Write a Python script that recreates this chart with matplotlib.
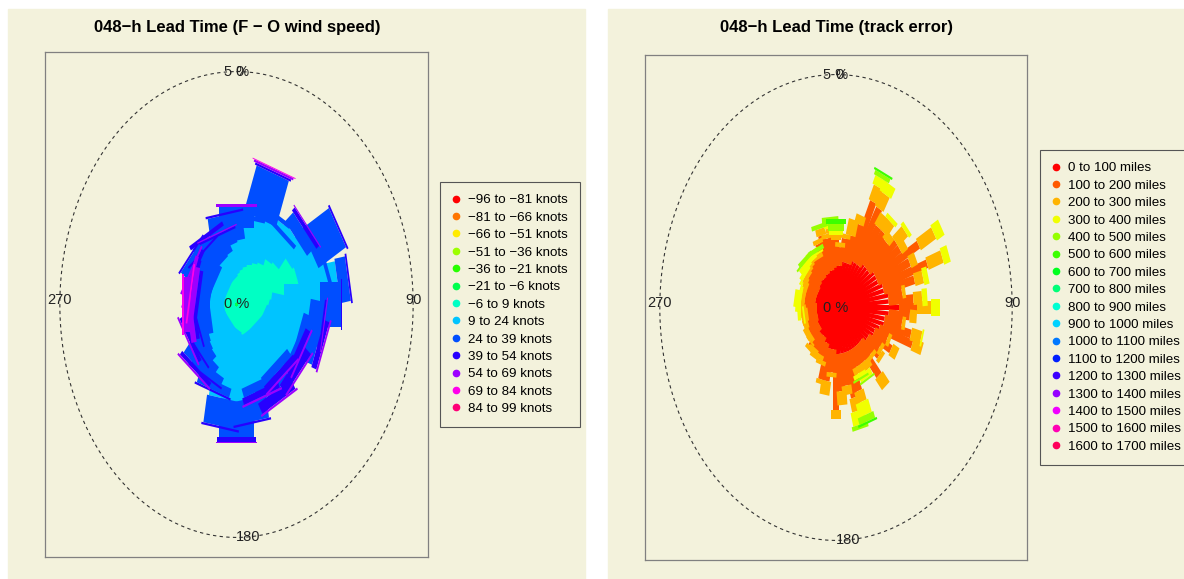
import colorsys
import numpy as np
import matplotlib
matplotlib.use('Agg')
import matplotlib.pyplot as plt
from matplotlib.lines import Line2D
from matplotlib.patches import Rectangle

plt.rcParams['font.family'] = ['Liberation Sans', 'DejaVu Sans']

BEIGE = '#F3F2DC'

# ---- left rose: F - O wind speed, 10 degree bins ----
wd_speed = list(range(0, 360, 10))
speed_labels = ['−96 to −81 knots', '−81 to −66 knots', '−66 to −51 knots',
                '−51 to −36 knots', '−36 to −21 knots', '−21 to −6 knots',
                '−6 to 9 knots', '9 to 24 knots', '24 to 39 knots',
                '39 to 54 knots', '54 to 69 knots', '69 to 84 knots',
                '84 to 99 knots']
# frequency (%) per direction bin for the classes that show up
spd_m36 = [0, 0, 0, 0, 0, 0, 0, 0.2, 0.5, 0.3, 0, 0, 0, 0, 0, 0, 0, 0,
           0, 0, 0, 0, 0, 0, 0, 0, 0, 0, 0, 0, 0, 0, 0, 0, 0, 0]
spd_m21 = [0.05, 0.05, 0.05, 0.05, 0.05, 0.1, 0.1, 0.1, 0.1, 0.05, 0.05, 0.05,
           0.05, 0.05, 0.05, 0.05, 0.05, 0.05, 0.05, 0.05, 0.05, 0.05, 0.05, 0.05,
           0.05, 0.05, 0.05, 0.05, 0.05, 0.05, 0.05, 0.05, 0.05, 0.05, 0.05, 0.05]
spd_m6 = [0.8, 0.9, 1.0, 1.2, 1.3, 1.6, 1.7, 1.5, 1.2, 1.0, 0.9, 0.8,
          0.7, 0.7, 0.6, 0.6, 0.7, 0.7, 0.7, 0.6, 0.5, 0.4, 0.4, 0.3,
          0.3, 0.3, 0.3, 0.3, 0.3, 0.3, 0.3, 0.4, 0.4, 0.5, 0.6, 0.7]
spd_9 = [0.8, 0.9, 0.9, 0.9, 0.6, 0.5, 0.6, 0.8, 1.1, 1.0, 1.1, 1.0,
         1.1, 1.1, 1.0, 1.2, 1.0, 1.3, 1.6, 1.4, 1.2, 1.1, 0.9, 0.8,
         0.7, 0.6, 0.4, 0.4, 0.4, 0.4, 0.4, 0.5, 0.5, 0.5, 0.6, 0.6]
spd_24 = [0.45, 0.1, 1.05, 0.1, 0.1, 0.3, 0.9, 0.1, 0.3, 0.6, 0.4, 0.6,
          0.1, 0.2, 0.2, 0.3, 0.2, 0.5, 0.5, 0.6, 0.2, 0.2, 0.4, 0.3,
          0.4, 0.2, 0.4, 0.5, 0.3, 0.5, 0.6, 0.7, 0.5, 0.6, 0.3, 0.6]
spd_39 = [0, 0, 0.05, 0, 0, 0.1, 0.05, 0, 0.05, 0.05, 0.05, 0.15,
          0.15, 0.25, 0.15, 0.25, 0.15, 0.05, 0.1, 0.05, 0.05, 0.05, 0.1, 0.05,
          0.1, 0.05, 0.1, 0.05, 0.1, 0.1, 0.1, 0.05, 0.05, 0.1, 0.05, 0.05]
spd_54 = [0.05, 0, 0.05, 0, 0, 0.03, 0, 0, 0, 0, 0.03, 0.05,
          0.05, 0.05, 0.05, 0.05, 0.05, 0, 0.03, 0, 0, 0, 0.05, 0,
          0.05, 0, 0.15, 0.2, 0.15, 0.1, 0.05, 0, 0, 0, 0.03, 0]
spd_69 = [0, 0, 0.02, 0, 0, 0, 0, 0, 0, 0, 0, 0,
          0, 0, 0, 0, 0, 0, 0, 0, 0, 0, 0, 0,
          0, 0, 0, 0.05, 0.05, 0, 0, 0, 0, 0, 0, 0]

# ---- right rose: track error, 5 degree bins ----
wd_track = list(range(0, 360, 5))
track_labels = ['%d to %d miles' % (lo, lo + 100) for lo in range(0, 1700, 100)]
trk_0 = [0.9, 0.9, 1.0, 1.0, 1.0, 1.1, 1.1, 1.1, 1.2, 1.2, 1.2, 1.3,
         1.3, 1.3, 1.4, 1.4, 1.5, 1.5, 1.8, 1.5, 1.4, 1.4, 1.3, 1.2,
         1.2, 1.1, 1.1, 1.0, 1.0, 1.0, 1.0, 1.0, 1.0, 1.0, 1.0, 1.0,
         1.0, 0.9, 0.9, 0.9, 0.8, 0.8, 0.7, 0.7, 0.7, 0.7, 0.6, 0.6,
         0.6, 0.6, 0.55, 0.55, 0.55, 0.55, 0.55, 0.6, 0.6, 0.6, 0.6, 0.6,
         0.6, 0.6, 0.65, 0.65, 0.7, 0.7, 0.7, 0.75, 0.75, 0.8, 0.8, 0.85]
trk_100 = [0.55, 0.4, 0.5, 0.6, 0.9, 1.4, 1.35, 1.0, 0.9, 0.8, 1.0, 0.9,
           1.4, 1.0, 1.35, 0.9, 0.4, 0.7, 0.5, 0.6, 0.5, 0.8, 1.0, 0.4,
           0.6, 0.4, 0.5, 0.4, 0.9, 0.4, 0.4, 0.4, 0.9, 1.0, 0.7, 0.8,
           1.2, 0.5, 0.7, 0.7, 0.4, 0.3, 0.4, 0.35, 0.4, 0.3, 0.3, 0.35,
           0.3, 0.3, 0.3, 0.3, 0.25, 0.3, 0.35, 0.3, 0.3, 0.3, 0.35, 0.3,
           0.35, 0.4, 0.35, 0.4, 0.4, 0.45, 0.5, 0.4, 0.7, 0.8, 0.7, 0.75]
trk_200 = [0.1, 0.1, 0.1, 0.35, 0.2, 0.35, 0.35, 0.3, 0.3, 0.2, 0.35, 0.2,
           0.5, 0.2, 0.45, 0.25, 0.1, 0.25, 0.4, 0.2, 0.1, 0.3, 0.3, 0.1,
           0.2, 0.1, 0.1, 0.1, 0.3, 0.2, 0.2, 0.15, 0.25, 0.3, 0.2, 0.3,
           0.2, 0.1, 0.3, 0.1, 0.1, 0.1, 0.15, 0.1, 0.1, 0.05, 0.1, 0.1,
           0.05, 0.1, 0.1, 0.15, 0.1, 0.15, 0.1, 0.1, 0.1, 0.1, 0.1, 0.1,
           0.1, 0.1, 0.1, 0.1, 0.1, 0.05, 0.1, 0.1, 0.1, 0.15, 0.1, 0.1]
trk_300 = [0.1, 0, 0, 0, 0, 0.2, 0.25, 0, 0.1, 0, 0.1, 0,
           0.25, 0, 0.2, 0.15, 0, 0.15, 0.25, 0, 0, 0.05, 0, 0,
           0, 0, 0, 0, 0, 0, 0.15, 0.1, 0.3, 0.3, 0, 0,
           0, 0, 0, 0, 0, 0, 0, 0, 0, 0, 0, 0,
           0, 0, 0, 0, 0.05, 0.1, 0.05, 0.15, 0.2, 0.05, 0.05, 0,
           0, 0.05, 0.1, 0.15, 0.1, 0.1, 0.1, 0.05, 0, 0, 0, 0.1]
trk_400 = [0.15, 0, 0, 0, 0, 0.1, 0, 0, 0, 0, 0, 0,
           0, 0, 0, 0, 0, 0, 0, 0, 0, 0, 0, 0,
           0, 0, 0, 0, 0, 0, 0.05, 0.05, 0.15, 0.1, 0, 0,
           0, 0, 0, 0, 0, 0, 0, 0, 0, 0, 0, 0,
           0, 0, 0, 0, 0, 0, 0, 0, 0, 0, 0, 0,
           0, 0, 0, 0.05, 0.1, 0, 0, 0.1, 0, 0.1, 0, 0.15]
trk_500 = [0.1, 0, 0, 0, 0, 0.05, 0, 0, 0, 0, 0, 0,
           0, 0, 0, 0, 0, 0, 0, 0, 0, 0, 0, 0,
           0, 0, 0, 0, 0, 0, 0, 0, 0.05, 0, 0, 0,
           0, 0, 0, 0, 0, 0, 0, 0, 0, 0, 0, 0,
           0, 0, 0, 0, 0, 0, 0, 0, 0, 0, 0, 0,
           0, 0, 0, 0, 0, 0, 0, 0, 0, 0, 0, 0]

ring = 5      # dashed ring at 5 %
lim = 5.42    # half range of the square data window


def rainbow(n):
    return [colorsys.hsv_to_rgb(i / n, 1, 1) for i in range(n)]


def paddle_rose(ax, wd, classes, ncat, cols, wscale):
    # classes: list of (class index starting at 1, frequencies)
    ang = np.radians(wd)
    s, c = np.sin(ang), np.cos(ang)
    base = np.zeros(len(wd))
    for i, vals in classes:
        top = base + np.asarray(vals, dtype=float)
        w = wscale * i / ncat
        for k in range(len(wd)):
            r1, r2 = base[k], top[k]
            if r2 - r1 <= 0:
                continue
            xs = [r1 * s[k] - w * c[k], r1 * s[k] + w * c[k],
                  r2 * s[k] + w * c[k], r2 * s[k] - w * c[k]]
            ys = [r1 * c[k] + w * s[k], r1 * c[k] - w * s[k],
                  r2 * c[k] - w * s[k], r2 * c[k] + w * s[k]]
            ax.fill(xs, ys, color=cols[i - 1], lw=0, zorder=3)
        base = top


def setup_panel(ax, title, title_x):
    t = np.linspace(0, 2 * np.pi, 400)
    ax.plot(ring * np.sin(t), ring * np.cos(t), ls=(0, (3, 3)), color='#333333',
            lw=0.8, zorder=2)
    ax.set_xlim(-lim, lim)
    ax.set_ylim(-lim, lim)
    ax.set_xticks([])
    ax.set_yticks([])
    ax.set_facecolor('none')
    for sp in ax.spines.values():
        sp.set_color('#808080')
        sp.set_linewidth(0.9)
    tk = dict(fontsize=10.5, color='#222222', ha='center', va='center', zorder=5)
    ax.text(0, ring, '5 %', **tk)
    ax.text(0.09, ring, '0', **tk)
    ax.text(ring, 0.09, '90', **tk)
    ax.text(0.34, -ring, '180', **tk)
    ax.text(-ring, 0.09, '270', **tk)
    ax.text(0, 0, '0 %', **tk)
    fig.text(title_x, 0.953, title, fontsize=12, fontweight='bold',
             ha='center', va='center')


def add_legend(labels, cols, x, y):
    hs = [Line2D([], [], marker='o', ls='none', color=col, markersize=4.5)
          for col in cols]
    leg = fig.legend(hs, labels, loc='upper left', bbox_to_anchor=(x, y),
                     bbox_transform=fig.transFigure, fontsize=9.6,
                     frameon=True, fancybox=False, edgecolor='#555555',
                     facecolor=BEIGE, framealpha=1, handlelength=0.6,
                     handletextpad=0.6, labelspacing=0.38, borderpad=0.9,
                     borderaxespad=0)
    leg.get_frame().set_linewidth(0.8)
    return leg


fig = plt.figure(figsize=(11.84, 5.79), dpi=100, facecolor='white')
fig.patches.append(Rectangle((8 / 1184, 0), 577 / 1184, 570 / 579,
                             transform=fig.transFigure, color=BEIGE, zorder=-1))
fig.patches.append(Rectangle((608 / 1184, 0), 576 / 1184, 570 / 579,
                             transform=fig.transFigure, color=BEIGE, zorder=-1))

ax1 = fig.add_axes([45 / 1184, 22 / 579, 383 / 1184, 505 / 579])
ax2 = fig.add_axes([645 / 1184, 19 / 579, 382 / 1184, 505 / 579])

spd_cols = rainbow(13)
trk_cols = rainbow(17)

setup_panel(ax1, '048−h Lead Time (F − O wind speed)', 237 / 1184)
paddle_rose(ax1, wd_speed,
            [(5, spd_m36), (6, spd_m21), (7, spd_m6), (8, spd_9), (9, spd_24),
             (10, spd_39), (11, spd_54), (12, spd_69)], 13, spd_cols, 0.7)
add_legend(speed_labels, spd_cols, 440 / 1184, 1 - 182 / 579)

setup_panel(ax2, '048−h Lead Time (track error)', 837 / 1184)
paddle_rose(ax2, wd_track,
            [(1, trk_0), (2, trk_100), (3, trk_200), (4, trk_300),
             (5, trk_400), (6, trk_500)], 17, trk_cols, 0.8)
add_legend(track_labels, trk_cols, 1040 / 1184, 1 - 150 / 579)

fig.savefig('out.png', dpi=100, facecolor='white')
